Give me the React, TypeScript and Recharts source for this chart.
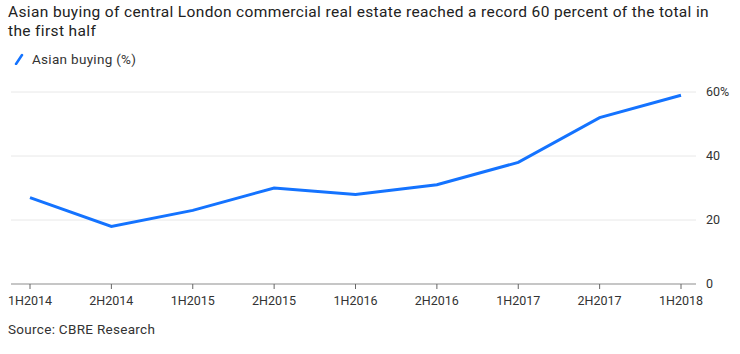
import { LineChart, Line, XAxis, YAxis, CartesianGrid } from "recharts";

const periods = [
  "1H2014",
  "2H2014",
  "1H2015",
  "2H2015",
  "1H2016",
  "2H2016",
  "1H2017",
  "2H2017",
  "1H2018",
];

const asianBuying = [27, 18, 23, 30, 28, 31, 38, 52, 59];

const yTicks = [0, 20, 40, 60];

const BLUE = "#1473ff";
const FONT = "Roboto, 'Noto Sans', sans-serif";

const data = periods.map((period, i) => ({
  period,
  value: asianBuying[i],
}));

const App = () => {
  return (
    <div
      style={{
        position: "absolute",
        left: 0,
        top: 0,
        width: 740,
        height: 354,
        background: "#fff",
        fontFamily: FONT,
        color: "#222",
      }}
    >
      <div
        style={{
          position: "absolute",
          left: 8,
          top: 3,
          width: 732,
          fontSize: 15.5,
          letterSpacing: 0.36,
          lineHeight: "19px",
          whiteSpace: "nowrap",
        }}
      >
        Asian buying of central London commercial real estate reached a record 60 percent of the total in
        <br />
        the first half
      </div>

      <div
        style={{
          position: "absolute",
          left: 14,
          top: 51,
          display: "flex",
          alignItems: "center",
          fontSize: 13.5,
          letterSpacing: 0.3,
          color: "#333",
        }}
      >
        <svg width={10} height={12} style={{ marginRight: 8 }}>
          <line x1={2} y1={11} x2={8} y2={2} stroke={BLUE} strokeWidth={2.5} strokeLinecap="round" />
        </svg>
        Asian buying (%)
      </div>

      <div style={{ position: "absolute", left: 0, top: 75 }}>
        <LineChart
          width={740}
          height={239}
          data={data}
          margin={{ top: 17, right: 0, bottom: 0, left: 11 }}
        >
          <CartesianGrid vertical={false} stroke="#e8e8e8" />
          <XAxis
            dataKey="period"
            padding={{ left: 19, right: 15 }}
            axisLine={{ stroke: "#999" }}
            tickLine={{ stroke: "#666" }}
            tickSize={5}
            tick={{ fill: "#333", fontSize: 12.5, fontFamily: FONT }}
            tickMargin={7}
            interval={0}
            height={30}
          />
          <YAxis
            orientation="right"
            domain={[0, 60]}
            ticks={yTicks}
            axisLine={false}
            tickLine={false}
            width={44}
            tickMargin={4}
            tick={{ fill: "#333", fontSize: 12.5, fontFamily: FONT }}
            tickFormatter={(v: number) => (v === 60 ? "60%" : String(v))}
          />
          <Line
            type="linear"
            dataKey="value"
            stroke={BLUE}
            strokeWidth={3}
            dot={false}
            isAnimationActive={false}
          />
        </LineChart>
      </div>

      <div
        style={{
          position: "absolute",
          left: 8,
          top: 321,
          fontSize: 13.5,
          letterSpacing: 0.3,
          color: "#333",
        }}
      >
        Source: CBRE Research
      </div>
    </div>
  );
};

export default App;
